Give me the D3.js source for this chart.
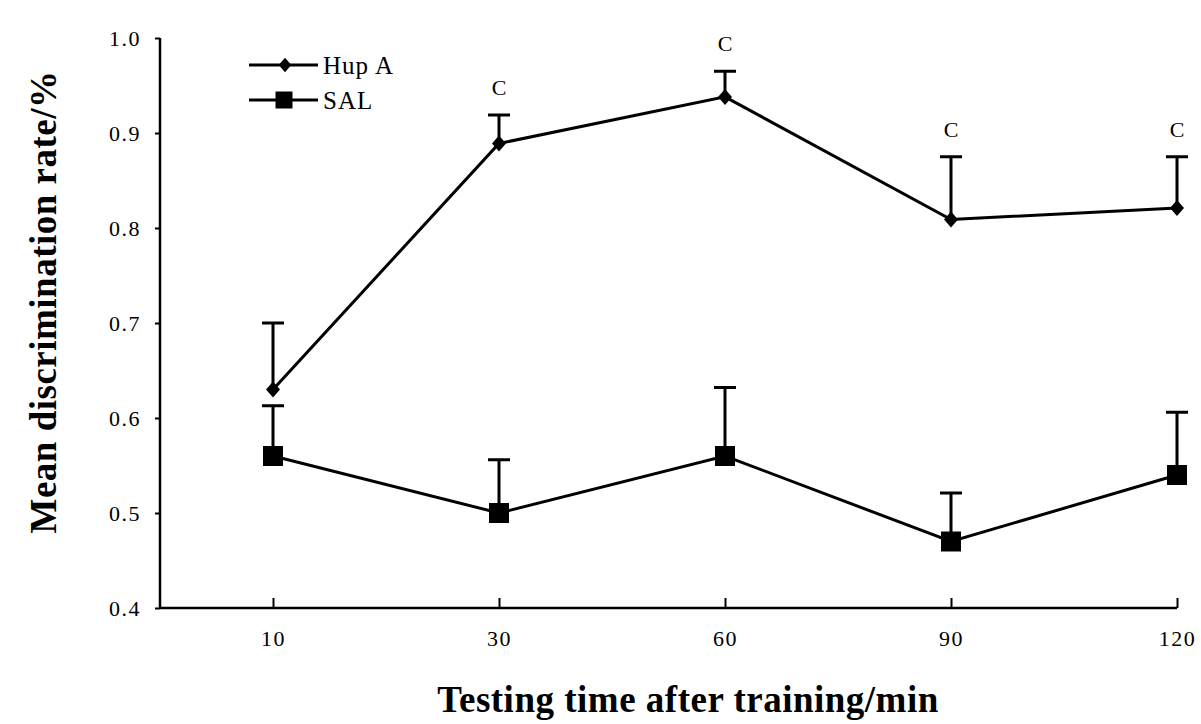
<!DOCTYPE html>
<html lang="en">
<head>
  <meta charset="UTF-8">
  <title>Mean discrimination rate</title>
  <script src="https://cdn.jsdelivr.net/npm/d3@7/dist/d3.min.js"></script>
  <style>
    html, body { margin: 0; padding: 0; background: #ffffff; }
    text { font-family: "Liberation Serif", "DejaVu Serif", serif; fill: #000; }
    .tick text { font-size: 22px; letter-spacing: 1.5px; }
    .title { font-size: 37px; font-weight: bold; letter-spacing: 0.5px; }
    .legend { font-size: 25px; letter-spacing: 1px; }
  </style>
</head>
<body>
  <div class="chart"></div>
  <script type="text/javascript">
    // data
    const times = ["10", "30", "60", "90", "120"];
    const hupA = [0.63, 0.889, 0.938, 0.809, 0.821];
    const hupAErr = [0.07, 0.03, 0.027, 0.066, 0.054];
    const sal = [0.56, 0.50, 0.56, 0.47, 0.54];
    const salErr = [0.053, 0.056, 0.072, 0.051, 0.066];
    const sigMarks = ["", "C", "C", "C", "C"];
    const yTicks = [0.4, 0.5, 0.6, 0.7, 0.8, 0.9, 1.0];

    const width = 1201, height = 724;
    const plotLeft = 160, plotTop = 38, plotBottom = 608;

    const svg = d3.select(".chart")
      .append("svg")
      .attr("width", width)
      .attr("height", height);

    const x = d3.scalePoint()
      .domain(times)
      .range([273, 1177]);

    const y = d3.scaleLinear()
      .domain([0.4, 1.0])
      .range([plotBottom, plotTop]);

    // y axis
    const yAxis = svg.append("g")
      .attr("transform", `translate(${plotLeft},0)`)
      .call(d3.axisLeft(y).tickValues(yTicks).tickFormat(d3.format(".1f")).tickSize(5).tickPadding(14));
    yAxis.select(".domain").attr("d", `M0,${plotTop}V${plotBottom}`).attr("stroke-width", 2.5);
    yAxis.selectAll(".tick line").attr("stroke-width", 2);

    // x axis, ticks pointing up into the plot
    const xAxis = svg.append("g")
      .attr("transform", `translate(0,${plotBottom})`)
      .call(d3.axisBottom(x).tickSize(-10).tickPadding(22));
    xAxis.select(".domain").attr("d", `M${plotLeft},0H${x("120")}`).attr("stroke-width", 2.5);
    xAxis.selectAll(".tick line").attr("stroke-width", 2);

    const line = d3.line()
      .x(function(d, i) { return x(times[i]); })
      .y(function(d) { return y(d); });

    function drawSeries(values, errs, marker) {
      const g = svg.append("g");
      g.append("path")
        .datum(values)
        .attr("fill", "none")
        .attr("stroke", "#000")
        .attr("stroke-width", 3)
        .attr("d", line);

      // upper error bars
      g.selectAll(".err")
        .data(values)
        .enter()
        .append("path")
        .attr("fill", "none")
        .attr("stroke", "#000")
        .attr("stroke-width", 3)
        .attr("d", function(d, i) {
          const cx = x(times[i]);
          const yt = y(d + errs[i]);
          return `M${cx},${y(d)}V${yt}M${cx - 11},${yt}H${cx + 11}`;
        });

      g.selectAll(".mark")
        .data(values)
        .enter()
        .append("path")
        .attr("fill", "#000")
        .attr("transform", function(d, i) { return `translate(${x(times[i])},${y(d)})`; })
        .attr("d", marker);
    }

    const diamond = "M0,-8L7,0L0,8L-7,0Z";
    const square = "M-10,-10H10V10H-10Z";

    drawSeries(hupA, hupAErr, diamond);
    drawSeries(sal, salErr, square);

    // significance letters
    svg.selectAll(".sig")
      .data(hupA)
      .enter()
      .append("text")
      .attr("text-anchor", "middle")
      .attr("x", function(d, i) { return x(times[i]); })
      .attr("y", function(d, i) { return y(d + hupAErr[i]) - 20; })
      .style("font-size", "22px")
      .text(function(d, i) { return sigMarks[i]; });

    // legend
    const legend = [
      { name: "Hup A", marker: diamond, y: 65 },
      { name: "SAL", marker: square, y: 100 }
    ];
    const lg = svg.selectAll(".lg")
      .data(legend)
      .enter()
      .append("g")
      .attr("transform", function(d) { return `translate(0,${d.y})`; });
    lg.append("line")
      .attr("x1", 249).attr("x2", 318)
      .attr("stroke", "#000").attr("stroke-width", 3);
    lg.append("path")
      .attr("transform", function(d) { return d.name === "SAL" ? "translate(284,0) scale(0.85)" : "translate(285,0) scale(0.9)"; })
      .attr("d", function(d) { return d.marker; });
    lg.append("text")
      .attr("class", "legend")
      .attr("x", 323)
      .attr("y", 9)
      .text(function(d) { return d.name; });

    // axis titles
    svg.append("text")
      .attr("class", "title")
      .attr("text-anchor", "middle")
      .attr("x", 688)
      .attr("y", 712)
      .text("Testing time after training/min");

    svg.append("text")
      .attr("class", "title")
      .attr("text-anchor", "middle")
      .attr("transform", "translate(56,302) rotate(-90)")
      .text("Mean discrimination rate/%");
  </script>
</body>
</html>
